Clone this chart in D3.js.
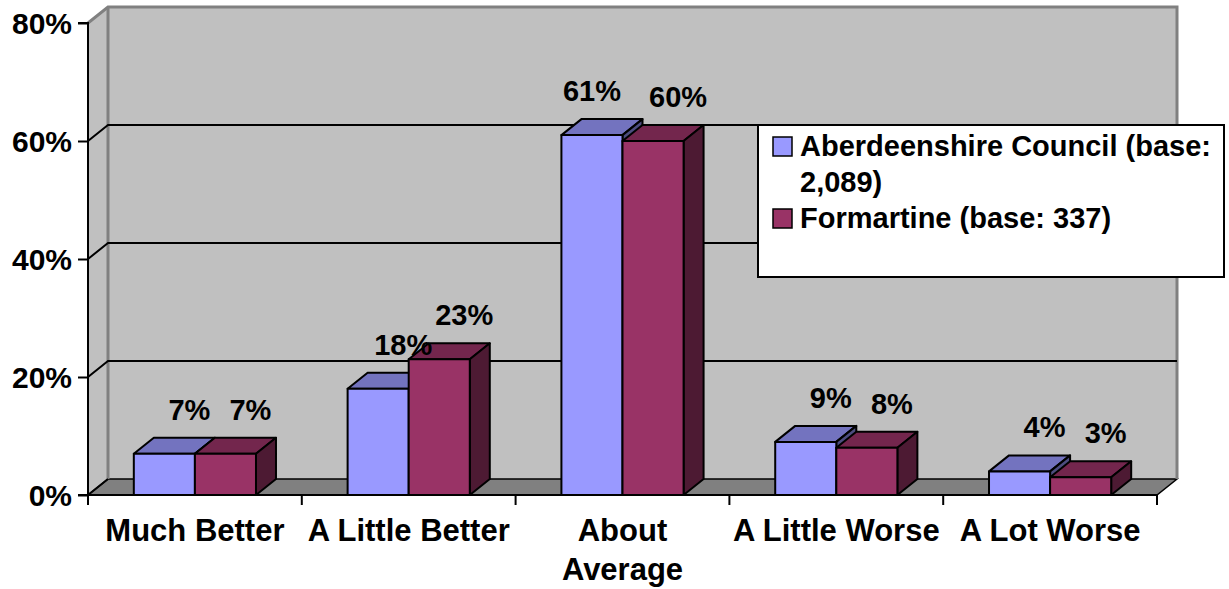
<!DOCTYPE html>
<html><head><meta charset="utf-8">
<script src="https://cdn.jsdelivr.net/npm/d3@7"></script>
<style>body{margin:0;background:#fff}svg{display:block}text{font-family:"Liberation Sans",Arial,sans-serif;font-weight:bold}</style>
</head><body><svg id="c" width="1229" height="589"></svg>
<script>
const categories = ["Much Better","A Little Better","About Average","A Little Worse","A Lot Worse"];
const seriesNames = ["Aberdeenshire Council (base: 2,089)","Formartine (base: 337)"];
const aberdeenshire = [0.07,0.18,0.61,0.09,0.04];
const formartine = [0.07,0.23,0.60,0.08,0.03];
const yTicks = [0,0.2,0.4,0.6,0.8];

const svg = d3.select("#c");
const X0=88, X1=1157, Y0=495, YTOP=23, DX=20, DY=16;
const x = d3.scaleBand().domain(categories).range([X0,X1]).padding(0);
const xs = d3.scaleBand().domain([0,1]).range([0,x.bandwidth()]).paddingInner(0).paddingOuter(0.75);
const y = d3.scaleLinear().domain([0,0.8]).range([Y0,YTOP]);
const series = [
  {name:seriesNames[0], values:aberdeenshire, front:"#9999FF", top:"#7373BF", side:"#4D4D80"},
  {name:seriesNames[1], values:formartine, front:"#993366", top:"#73264D", side:"#4D1A33"}
];

// side wall
svg.append("polygon").attr("points",[[X0,y(0.8)],[X0+DX,y(0.8)-DY],[X0+DX,Y0-DY],[X0,Y0]].join(" "))
  .attr("fill","#C0C0C0");
// back wall
svg.append("rect").attr("x",X0+DX).attr("y",y(0.8)-DY).attr("width",X1-X0).attr("height",Y0-y(0.8))
  .attr("fill","#C0C0C0");
// floor
svg.append("polygon").attr("points",[[X0,Y0],[X1,Y0],[X1+DX,Y0-DY],[X0+DX,Y0-DY]].join(" "))
  .attr("fill","#808080").attr("stroke","#000").attr("stroke-width",1.5);
// wall edges
svg.append("path").attr("d",`M${X0},${y(0.8)}L${X0+DX},${y(0.8)-DY}H${X1+DX}V${Y0-DY}`)
  .attr("fill","none").attr("stroke","#808080").attr("stroke-width",3);
svg.append("line").attr("x1",X0+DX).attr("x2",X0+DX).attr("y1",y(0.8)-DY).attr("y2",Y0-DY)
  .attr("stroke","#808080").attr("stroke-width",3);
// gridlines
[0.2,0.4,0.6].forEach(v=>{
  svg.append("path").attr("d",`M${X0},${y(v)}L${X0+DX},${y(v)-DY}H${X1+DX}`)
    .attr("fill","none").attr("stroke","#000").attr("stroke-width",2);
});
svg.append("line").attr("x1",X0).attr("y1",Y0).attr("x2",X0+DX).attr("y2",Y0-DY).attr("stroke","#000").attr("stroke-width",2);

// bars
const gBars = svg.append("g");
categories.forEach((c,i)=>{
  series.forEach((s,j)=>{
    const v=s.values[i];
    const bx = x(c)+xs(j), bw = xs.bandwidth(), ty=y(v);
    const g = gBars.append("g").attr("stroke","#000").attr("stroke-width",2).attr("stroke-linejoin","round");
    g.append("polygon").attr("points",[[bx,ty],[bx+DX,ty-DY],[bx+bw+DX,ty-DY],[bx+bw,ty]].join(" ")).attr("fill",s.top);
    g.append("polygon").attr("points",[[bx+bw,ty],[bx+bw+DX,ty-DY],[bx+bw+DX,Y0-DY],[bx+bw,Y0]].join(" ")).attr("fill",s.side);
    g.append("rect").attr("x",bx).attr("y",ty).attr("width",bw).attr("height",Y0-ty).attr("fill",s.front);
  });
});

// y axis
const yAxis = d3.axisLeft(y).tickValues(yTicks).tickFormat(d3.format(".0%")).tickSize(10).tickPadding(6);
const ya = svg.append("g").attr("transform",`translate(${X0},0)`).call(yAxis);
ya.select(".domain").attr("stroke","#000").attr("stroke-width",2).attr("d",`M-10,${y(0.8)}H0V${Y0}H-10`);
ya.selectAll(".tick line").attr("stroke","#000").attr("stroke-width",2);
ya.selectAll(".tick text").attr("font-size",30).attr("fill","#000").attr("font-family",null).attr("dy","0.36em");

// x axis
const xAxis = d3.axisBottom(x).tickSize(0).tickFormat("");
const xa = svg.append("g").attr("transform",`translate(0,${Y0})`).call(xAxis);
xa.select(".domain").attr("stroke","#000").attr("stroke-width",2).attr("d",`M${X0},0H${X1}`);
const bounds = categories.map(c=>x(c)).concat([X1]);
svg.append("g").selectAll("line").data(bounds).join("line")
  .attr("x1",d=>d).attr("x2",d=>d).attr("y1",Y0).attr("y2",Y0+10).attr("stroke","#000").attr("stroke-width",2);
const labelLines = {"About Average":["About","Average"]};
categories.forEach(c=>{
  const lines = labelLines[c]||[c];
  const t = svg.append("text").attr("x",x(c)+x.bandwidth()/2).attr("y",541).attr("text-anchor","middle").attr("font-size",31);
  lines.forEach((l,k)=>t.append("tspan").attr("x",x(c)+x.bandwidth()/2).attr("dy",k?39:0).text(l));
});

// value labels
const fmt = d3.format(".0%");
categories.forEach((c,i)=>{
  const ts = series.map((s,j)=>{
    const v=s.values[i];
    return svg.append("text").attr("x",x(c)+xs(j)+xs.bandwidth()/2+25).attr("y",y(v)-DY-18)
      .attr("text-anchor","middle").attr("font-size",29).text(fmt(v));
  });
  // avoid crowding: if labels at nearly the same height nearly touch, move the left one over its bar front
  const b0 = ts[0].node().getBBox(), b1 = ts[1].node().getBBox();
  if (Math.abs(b0.y-b1.y) < 10 && b1.x - (b0.x+b0.width) < 12) ts[0].attr("x", +ts[0].attr("x") - 25);
});

// legend
const lg = svg.append("g");
lg.append("rect").attr("x",758).attr("y",125).attr("width",466).attr("height",152).attr("fill","#fff").attr("stroke","#000").attr("stroke-width",2);
const legendRows = [
  {s:series[0], lines:["Aberdeenshire Council (base:","2,089)"], y:156},
  {s:series[1], lines:["Formartine (base: 337)"], y:228}
];
legendRows.forEach(r=>{
  lg.append("rect").attr("x",773).attr("y",r.y-19).attr("width",19).attr("height",19).attr("fill",r.s.front).attr("stroke","#000").attr("stroke-width",1.5);
  const t = lg.append("text").attr("x",800).attr("y",r.y).attr("font-size",29);
  r.lines.forEach((l,k)=>t.append("tspan").attr("x",800).attr("dy",k?36:0).text(l));
});
</script></body></html>
